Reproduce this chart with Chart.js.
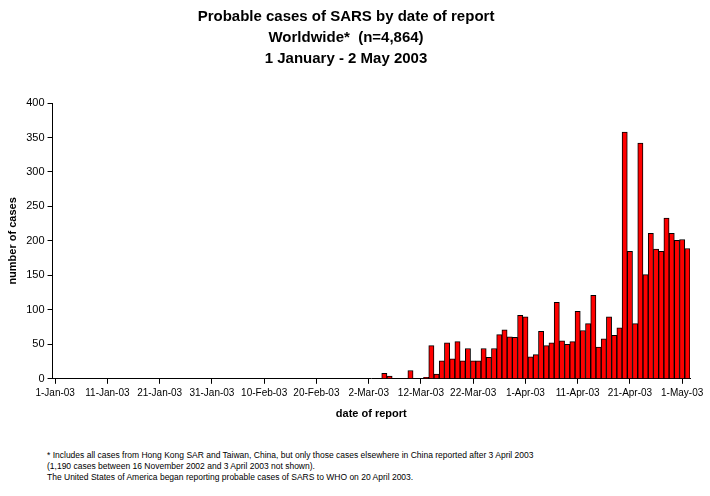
<!DOCTYPE html>
<html><head><meta charset="utf-8">
<script src="https://cdn.jsdelivr.net/npm/chart.js@4"></script>
<style>
body{margin:0;background:#fff;font-family:"Liberation Sans",Arial,sans-serif;}
#wrap{position:absolute;left:0;top:0;width:710px;height:425px;}
#foot{position:absolute;left:47px;top:450px;font-size:8.5px;line-height:11px;color:#000;width:500px;}
</style></head><body>
<div id="wrap"><canvas id="c" width="710" height="425"></canvas></div>
<div id="foot">* Includes all cases from Hong Kong SAR and Taiwan, China, but only those cases elsewhere in China reported after 3 April 2003 (1,190 cases between 16 November 2002 and 3 April 2003 not shown).<br>The United States of America began reporting probable cases of SARS to WHO on 20 April 2003.</div>
<script>
const monthNames=["Jan","Feb","Mar","Apr","May"];
const monthDays=[31,28,31,30,2];
const categories=[];
for(let m=0;m<monthNames.length;m++){for(let d=1;d<=monthDays[m];d++){categories.push(d+"-"+monthNames[m]+"-03");}}
// daily values from 5-Mar (day 63) onwards; earlier days are zero
const earlyZeros=63;
const casesFromMar5=[8,4,0,0,0,12,0,0,2,48,7,26,52,29,54,26,44,26,26,44,31,44,64,71,61,60,92,90,32,35,69,48,52,111,55,50,54,98,70,80,121,46,58,90,63,74,358,185,80,342,151,211,188,185,233,211,201,202,189];
const cases=new Array(earlyZeros).fill(0).concat(casesFromMar5);
const yTicks=[0,50,100,150,200,250,300,350,400];
const font="'Liberation Sans', Arial, sans-serif";
new Chart(document.getElementById('c'),{
 type:'bar',
 data:{labels:categories,datasets:[{data:cases,backgroundColor:'#ff0000',borderColor:'#000',borderWidth:1,barPercentage:1,categoryPercentage:1}]},
 options:{responsive:false,animation:false,
  layout:{padding:{left:2,right:20,top:0}},
  plugins:{legend:{display:false},tooltip:{enabled:false},
   title:{display:true,text:["Probable cases of SARS by date of report","Worldwide*  (n=4,864)","1 January - 2 May 2003"],color:'#000',font:{family:font,size:15,weight:'bold',lineHeight:1.4},padding:{top:6,bottom:34}}},
  scales:{
   x:{grid:{display:true,drawOnChartArea:false,offset:false,color:'#000',tickLength:5},border:{color:'#000'},
     ticks:{autoSkip:false,maxRotation:0,color:'#000',font:{family:font,size:10},callback:(v,i)=>i%10===0?categories[i]:null},
     title:{display:true,text:'date of report',color:'#000',font:{family:font,size:11,weight:'bold'},padding:{top:6}}},
   y:{min:0,max:400,afterBuildTicks:a=>{a.ticks=yTicks.map(v=>({value:v}));},grid:{drawOnChartArea:false,color:'#000',tickLength:5},border:{color:'#000'},
     ticks:{color:'#000',font:{family:font,size:11}},
     title:{display:true,text:'number of cases',color:'#000',font:{family:font,size:11,weight:'bold'}}}
  }}
});
</script></body></html>
